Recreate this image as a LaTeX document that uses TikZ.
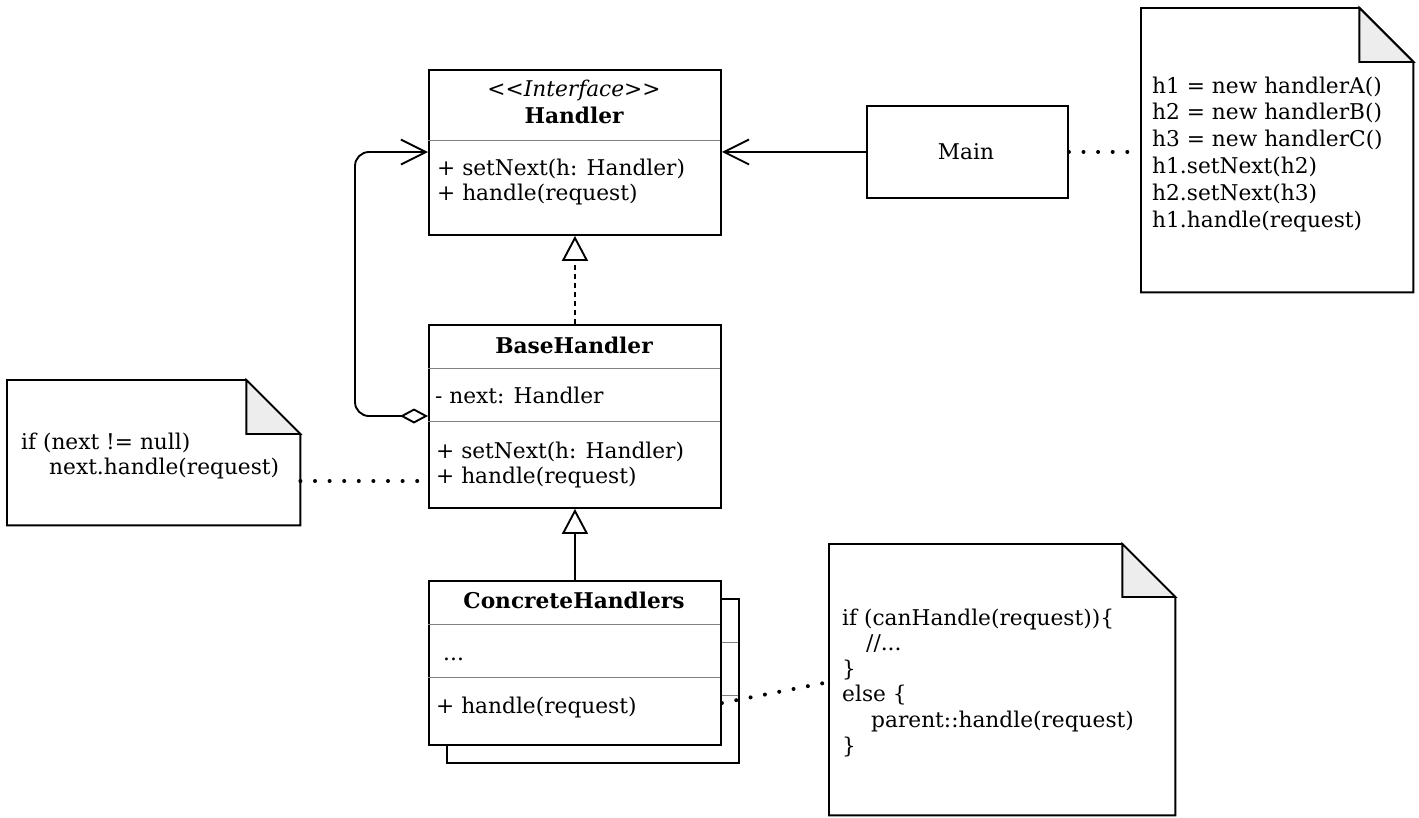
\documentclass[tikz,border=0pt]{standalone}
\usepackage{fontspec}
\setmainfont{DejaVu Serif}
\usetikzlibrary{arrows.meta,calc}
\newcommand\fs{\fontsize{21.7}{26}\selectfont}
\begin{document}
\begin{tikzpicture}[x=1pt,y=-1pt,
  box/.style={draw,line width=1.9pt,fill=white,inner sep=0,anchor=north west},
  ghost/.style={inner sep=0,anchor=north west},
  sepline/.style={line width=1pt,draw=black!50},
  txt/.style={inner sep=0,anchor=base west,font=\fs},
  ctxt/.style={inner sep=0,anchor=base,font=\fs},
  notebody/.style={draw,line width=1.9pt,fill=white,line join=miter},
  notefold/.style={draw,line width=1.9pt,fill=black!7,line join=miter},
  assoc/.style={line width=1.9pt,-{Straight Barb[length=25pt,width=25pt,line width=1.9pt]}},
  aggr/.style={line width=1.9pt,rounded corners=14pt,{Diamond[fill=white,length=28pt,width=15pt,line width=1.9pt]}-{Straight Barb[length=25pt,width=25pt,line width=1.9pt]}},
  realize/.style={line width=1.9pt,dash pattern=on 5pt off 4pt,-{Triangle[fill=white,length=25pt,width=26pt,line width=1.9pt]}},
  general/.style={line width=1.9pt,-{Triangle[fill=white,length=25pt,width=26pt,line width=1.9pt]}},
  dotline/.style={line width=4pt,line cap=round,dash pattern=on 0pt off 14.6pt}
]
\useasboundingbox (0,0) rectangle (1419,817);

% ---------- Handler ----------
\node[box,minimum width=292pt,minimum height=165pt] (handler) at (428,69) {};
\draw[sepline] (428,140) -- (720,140);
\node[ctxt] (hst) at (574,96) {\itshape <\kern0pt<Interface>\kern0pt>};
\node[ctxt] (hnm) at (574,123) {\bfseries Handler};
\node[txt] (hm1) at (437,175) {+ setNext(h: Handler)};
\node[txt] (hm2) at (437,200) {+ handle(request)};

% ---------- BaseHandler ----------
\node[box,minimum width=292pt,minimum height=183pt] (bh) at (428,324) {};
\draw[sepline] (428,368) -- (720,368);
\draw[sepline] (428,421) -- (720,421);
\node[ctxt] (bhn) at (574,353) {\bfseries BaseHandler};
\node[txt] (bha) at (435,403) {- next: Handler};
\node[txt] (bhm1) at (436,458) {+ setNext(h: Handler)};
\node[txt] (bhm2) at (436,483) {+ handle(request)};

% ---------- ConcreteHandlers (stacked) ----------
\node[box,minimum width=292pt,minimum height=164pt] (chb) at (446,598) {};
\draw[sepline] (446,642) -- (738,642);
\draw[sepline] (446,695) -- (738,695);
\node[box,minimum width=292pt,minimum height=164pt] (ch) at (428,580) {};
\draw[sepline] (428,624) -- (720,624);
\draw[sepline] (428,677) -- (720,677);
\node[ctxt] (chn) at (574,608) {\bfseries ConcreteHandlers};
\node[txt] (cha) at (443,660) {...};
\node[txt] (chm) at (436,713) {+ handle(request)};

% ---------- Main ----------
\node[box,minimum width=201pt,minimum height=92pt] (main) at (866,105) {};
\node[ctxt] (mainl) at (966,159) {Main};

% ---------- Notes ----------
\node[ghost,minimum width=272pt,minimum height=284pt] (n1) at (1141,8) {};
\draw[notebody] (n1.north west) -- ($(n1.north east)+(-54,0)$) -- ($(n1.north east)+(0,54)$) -- (n1.south east) -- (n1.south west) -- cycle;
\draw[notefold] ($(n1.north east)+(-54,0)$) -- ($(n1.north east)+(-54,54)$) -- ($(n1.north east)+(0,54)$) -- cycle;
\node[txt] (n1a) at (1152,93) {h1 = new handlerA()};
\node[txt] (n1b) at (1152,119.8) {h2 = new handlerB()};
\node[txt] (n1c) at (1152,146.6) {h3 = new handlerC()};
\node[txt] (n1d) at (1152,173.4) {h1.setNext(h2)};
\node[txt] (n1e) at (1152,200.2) {h2.setNext(h3)};
\node[txt] (n1f) at (1152,227) {h1.handle(request)};

\node[ghost,minimum width=293pt,minimum height=145pt] (n2) at (7,380) {};
\draw[notebody] (n2.north west) -- ($(n2.north east)+(-54,0)$) -- ($(n2.north east)+(0,54)$) -- (n2.south east) -- (n2.south west) -- cycle;
\draw[notefold] ($(n2.north east)+(-54,0)$) -- ($(n2.north east)+(-54,54)$) -- ($(n2.north east)+(0,54)$) -- cycle;
\node[txt] (n2a) at (21,449) {if (next != null)};
\node[txt] (n2b) at (49,474) {next.handle(request)};

\node[ghost,minimum width=346pt,minimum height=271pt] (n3) at (829,544) {};
\draw[notebody] (n3.north west) -- ($(n3.north east)+(-53,0)$) -- ($(n3.north east)+(0,53)$) -- (n3.south east) -- (n3.south west) -- cycle;
\draw[notefold] ($(n3.north east)+(-53,0)$) -- ($(n3.north east)+(-53,53)$) -- ($(n3.north east)+(0,53)$) -- cycle;
\node[txt] (n3a) at (842,625) {if (canHandle(request))\{};
\node[txt] (n3b) at (866,650.6) {//...};
\node[txt] (n3c) at (842,676.2) {\}};
\node[txt] (n3d) at (842,701.8) {else \{};
\node[txt] (n3e) at (871,727.4) {parent::handle(request)};
\node[txt] (n3f) at (842,753) {\}};

% ---------- Connectors ----------
\draw[assoc] (main.west) -- (main.west -| handler.east);
\draw[dotline] (main.east) -- (main.east -| n1.west);
\draw[aggr] ($(bh.north west)+(0,92)$) -- ++(-73,0) |- ($(handler.north west)+(0,83)$);
\draw[realize] (bh.north) -- (handler.south);
\draw[general] (ch.north) -- (bh.south);
\draw[dotline] ($(ch.north east)+(0,123)$) -- ($(n3.north west)+(0,138)$);
\draw[dotline] ($(n2.north east)+(0,101)$) -- ($(bh.north west)+(0,157)$);
\end{tikzpicture}
\end{document}
